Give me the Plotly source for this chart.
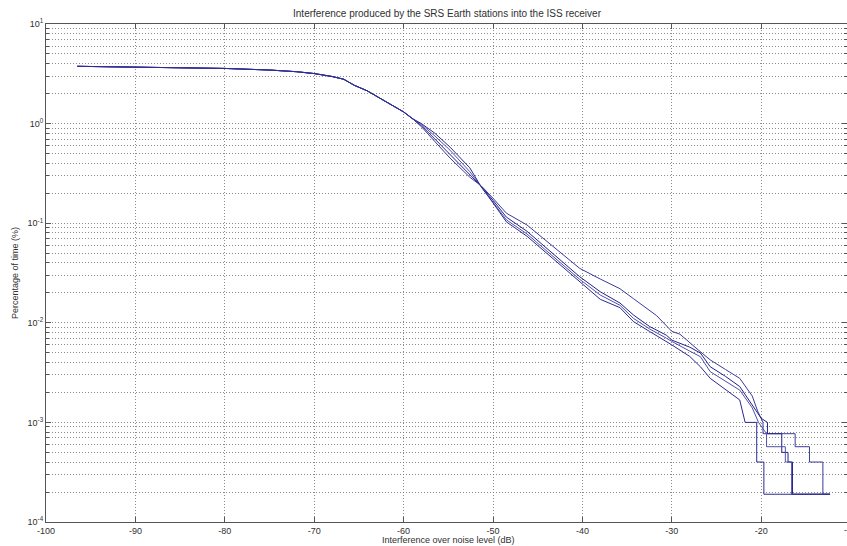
import plotly.graph_objects as go

# ---- data (x: I/N in dB, y: percentage of time) ----
head_x = [-96.5, -93, -90, -85, -80, -75, -72, -70, -68, -66.7, -65.5, -64.1, -62, -60, -59]
head_p = [3.76, 3.72, 3.69, 3.66, 3.58, 3.45, 3.32, 3.18, 2.97, 2.79, 2.42, 2.14, 1.68, 1.31, 1.12]

a_x = [-58, -56.5, -54.8, -52.6, -51.3, -50, -48.5, -46.2, -43.3, -40.3, -38, -35.8, -34.3, -33,
       -31.7, -30, -29.1, -27, -25.7, -24, -22.4, -21, -20.4, -19.8, -19.8, -16.2, -16.2, -14.6,
       -14.6, -13.1, -13.1, -12.3]
a_p = [0.93, 0.66, 0.45, 0.29, 0.236, 0.178, 0.126, 0.096, 0.058, 0.0352, 0.0275, 0.022, 0.0175,
       0.0145, 0.0118, 0.0082, 0.0077, 0.0053, 0.00424, 0.0034, 0.00277, 0.00184, 0.0013, 0.001,
       0.00077, 0.00077, 0.00057, 0.00057, 0.0004, 0.0004, 0.00019, 0.00019]

b_x = [-58, -56.5, -54.8, -52.6, -51.3, -50, -48.5, -46.2, -43.3, -40.3, -38, -35.8, -34.3, -32.5,
       -30.6, -30, -28, -26.8, -25.7, -24, -22.4, -21, -20, -19.3, -19.3, -17.7, -17.7, -17.0,
       -17.0, -16.5, -16.5, -12.3]
b_p = [0.95, 0.70, 0.49, 0.31, 0.234, 0.17, 0.115, 0.083, 0.049, 0.029, 0.0205, 0.0158, 0.012,
       0.0092, 0.0075, 0.0067, 0.0057, 0.00497, 0.00362, 0.0029, 0.00229, 0.0015, 0.0011, 0.001,
       0.00077, 0.00077, 0.0005, 0.0005, 0.0004, 0.0004, 0.00019, 0.00019]

c_x = [-58, -56.5, -54.8, -52.6, -51.3, -50, -48.5, -46.2, -43.3, -40.3, -38, -35.8, -34.3, -32.5,
       -30.6, -30, -28, -26.8, -25.7, -24, -22.4, -21, -20.3, -19.4, -19.4, -17.3, -17.3, -16.6,
       -16.6, -12.3]
c_p = [0.98, 0.75, 0.54, 0.33, 0.232, 0.165, 0.108, 0.078, 0.047, 0.0273, 0.019, 0.015, 0.0111,
       0.0087, 0.0070, 0.0065, 0.0052, 0.00457, 0.00323, 0.0026, 0.00211, 0.0014, 0.001, 0.00077,
       0.00057, 0.00057, 0.0004, 0.0004, 0.00019, 0.00019]

d_x = [-58, -56.5, -54.8, -52.6, -51.3, -50, -48.5, -46.2, -43.3, -40.3, -38, -35.8, -34.3, -32.5,
       -30.6, -30, -28, -26.8, -25.7, -23.9, -22.4, -21.8, -20.5, -20.5, -19.7, -19.7, -12.3]
d_p = [1.0, 0.80, 0.58, 0.36, 0.23, 0.16, 0.103, 0.074, 0.044, 0.0259, 0.0172, 0.0142, 0.0103,
       0.0082, 0.0065, 0.006, 0.0046, 0.00362, 0.00277, 0.0021, 0.00168, 0.001, 0.001, 0.0004,
       0.0004, 0.00019, 0.00019]

x_ticks = [-100, -90, -80, -70, -60, -50, -40, -30, -20]
y_exponents = [-4, -3, -2, -1, 0, 1]
minor_mantissas = [2, 3, 4, 5, 6, 7, 8, 9]

title_text = "Interference produced by the SRS Earth stations into the ISS receiver"
xlabel = "Interference over noise level (dB)"
ylabel = "Percentage of time (%)"

curves = [(a_x, a_p, "#3a3a9c"), (b_x, b_p, "#22228c"), (c_x, c_p, "#5050aa"), (d_x, d_p, "#2a2a92")]

FONT = "Liberation Sans, Arial, Helvetica, sans-serif"
TXT = "#303030"
GRID = "rgba(110,110,110,0.8)"
DOT = "1px,2px"
AXC = "#555555"

fig = go.Figure()
for cx, cp, col in curves:
    fig.add_trace(go.Scatter(x=head_x + cx, y=head_p + cp, mode="lines",
                             line=dict(color=col, width=1), showlegend=False))

W, H = 847, 546
L, R, T, B = 46, 0, 24, 24
plot_w = W - L - R
px_per_db = 8.94
x_max = -100 + plot_w / px_per_db

y_vals = [10.0 ** e for e in y_exponents]
y_text = ["10<sup>%d</sup>" % e for e in y_exponents]
minor_vals = [m * 10.0 ** e for e in y_exponents[:-1] for m in minor_mantissas]

fig.update_layout(
    width=W, height=H, autosize=False,
    margin=dict(l=L, r=R, t=T, b=B, pad=0),
    paper_bgcolor="white", plot_bgcolor="white",
    font=dict(family=FONT, size=9, color=TXT),
    title=dict(text=title_text, x=447 / W, xanchor="center",
               y=1 - 13 / H, yanchor="middle", font=dict(size=10, color=TXT, family=FONT)),
    xaxis=dict(range=[-100, x_max], tickmode="array", tickvals=x_ticks,
               ticktext=[str(v) for v in x_ticks], ticks="inside", ticklen=5, tickcolor=AXC,
               showline=True, linecolor=AXC, linewidth=1, mirror="ticks",
               showgrid=True, gridcolor=GRID, griddash=DOT, gridwidth=1, zeroline=False,
               tickfont=dict(size=9, color=TXT, family=FONT)),
    yaxis=dict(type="log", range=[-4, 1], tickmode="array", tickvals=y_vals, ticktext=y_text,
               ticks="inside", ticklen=5, tickcolor=AXC, showline=True, linecolor=AXC,
               linewidth=1, mirror="ticks", showgrid=True, gridcolor=GRID, griddash=DOT,
               gridwidth=1, zeroline=False, tickfont=dict(size=9, color=TXT, family=FONT),
               minor=dict(tickmode="array", tickvals=minor_vals, ticks="inside", ticklen=3,
                          tickcolor=AXC, showgrid=True, gridcolor=GRID, griddash=DOT,
                          gridwidth=1)),
    annotations=[
        dict(text=xlabel, xref="paper", yref="paper", x=(448 - L) / plot_w,
             y=-(539.5 - (H - B)) / (H - T - B), xanchor="center", yanchor="middle",
             showarrow=False, font=dict(size=9, color=TXT, family=FONT)),
        dict(text=ylabel, xref="paper", yref="paper", x=(15 - L) / plot_w, y=0.5,
             xanchor="center", yanchor="middle", textangle=-90, showarrow=False,
             font=dict(size=9, color=TXT, family=FONT)),
        dict(text="-10", xref="paper", yref="paper", x=(850 - L) / plot_w,
             y=-(530 - (H - B)) / (H - T - B), xanchor="center", yanchor="middle",
             showarrow=False, font=dict(size=9, color=TXT, family=FONT)),
    ],
)

fig.write_html("out.html")
